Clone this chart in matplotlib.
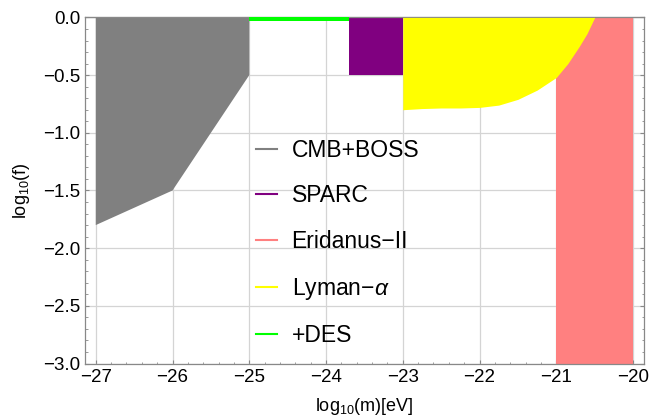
import numpy as np
import matplotlib.pyplot as plt
from matplotlib.ticker import MultipleLocator, NullFormatter
from matplotlib.lines import Line2D

plt.rcParams['font.family'] = ['Liberation Sans', 'DejaVu Sans']
plt.rcParams['mathtext.fontset'] = 'custom'
plt.rcParams['mathtext.rm'] = 'Liberation Sans'
plt.rcParams['mathtext.it'] = 'Liberation Sans:italic'

# CMB+BOSS polygon
cmb_x = [-27, -25, -25, -26, -27]
cmb_y = [0.0, 0.0, -0.5, -1.5, -1.8]

# SPARC box
sparc_x = [-23.7, -23.0]
sparc_y = [-0.5, 0.0]

# Eridanus-II box
eri_x = [-21.0, -20.0]
eri_y = [-3.0, 0.0]

# Lyman-alpha lower boundary
lya_x = [-23.0, -22.75, -22.5, -22.25, -22.0, -21.75, -21.5, -21.25, -21.0, -20.85, -20.7, -20.6, -20.5]
lya_y = [-0.80, -0.79, -0.785, -0.785, -0.78, -0.76, -0.71, -0.63, -0.52, -0.40, -0.25, -0.14, 0.0]

# +DES strip
des_x = [-25.0, -23.7]
des_y = [-0.03, 0.0]

labels = ['CMB+BOSS', 'SPARC', 'Eridanus\u2212II', 'Lyman\u2212$\\alpha$', '+DES']
colors = ['#808080', '#800080', '#ff8080', '#ffff00', '#00ff00']

fig = plt.figure(figsize=(6.49, 4.2), dpi=100)
ax = fig.add_axes([0.131, 0.1345, 0.861, 0.824])

ax.fill(cmb_x, cmb_y, color=colors[0], lw=0, zorder=2)
ax.fill_between(sparc_x, sparc_y[0], sparc_y[1], color=colors[1], lw=0, zorder=2)
ax.fill_between(eri_x, eri_y[0], eri_y[1], color=colors[2], lw=0, zorder=2)
ax.fill_between(lya_x, lya_y, 0, color=colors[3], lw=0, zorder=3)
ax.fill_between(des_x, des_y[0], des_y[1], color=colors[4], lw=0, zorder=3)

ax.set_xlim(-27.14, -19.86)
ax.set_ylim(-3, 0)

ax.xaxis.set_major_locator(MultipleLocator(1))
ax.xaxis.set_minor_locator(MultipleLocator(0.2))
ax.yaxis.set_major_locator(MultipleLocator(0.5))
ax.yaxis.set_minor_locator(MultipleLocator(0.1))
ax.grid(True, which='major', color='#d4d4d4', lw=0.9, zorder=1)
ax.set_axisbelow(True)

tick_col = '#888888'
ax.tick_params(which='both', direction='in', color=tick_col, labelsize=13.5, right=True)
ax.tick_params(which='major', length=3.2, width=0.8)
ax.tick_params(which='minor', length=1.8, width=0.6)
ax.tick_params(axis='x', pad=4)
for s in ax.spines.values():
    s.set_color(tick_col)
    s.set_linewidth(0.9)

top = ax.secondary_xaxis('top')
top.xaxis.set_major_locator(MultipleLocator(0.5))
top.xaxis.set_major_formatter(NullFormatter())
top.tick_params(direction='in', length=2.2, width=0.6, color=tick_col)
top.spines['top'].set_color(tick_col)

ax.set_xlabel('log$_{10}$(m)[eV]', fontsize=13, labelpad=7)
ax.set_ylabel('log$_{10}$(f)', fontsize=13, labelpad=8)

handles = [Line2D([], [], color=c, lw=1.5) for c in colors]
ax.legend(handles, labels, loc='upper left', bbox_to_anchor=(0.306, 0.65),
          frameon=False, fontsize=16.5, handlelength=0.9, handletextpad=0.65,
          labelspacing=0.99, borderpad=0, borderaxespad=0)

fig.savefig('out.png', dpi=100)
